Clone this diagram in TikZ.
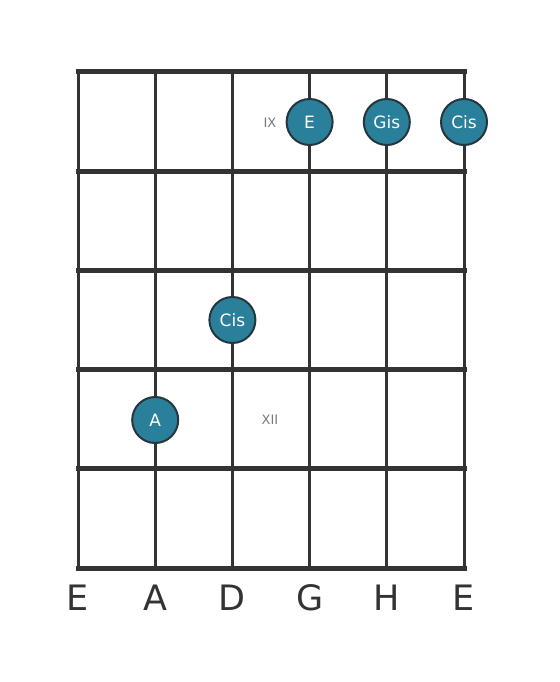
\documentclass[tikz,border=0pt]{standalone}
\usepackage{fontspec}
\setmainfont{DejaVu Sans}
\definecolor{gridgray}{HTML}{333333}
\definecolor{dotfill}{HTML}{2A7F9A}
\definecolor{dotline}{HTML}{26363C}
\definecolor{fretgray}{HTML}{7A7A7A}
\begin{document}
\begin{tikzpicture}[x=1pt,y=-1pt,
  strg/.style={line width=3pt,color=gridgray},
  fret/.style={line width=5pt,color=gridgray,line cap=rect},
  dot/.style={circle,draw=dotline,line width=2pt,fill=dotfill,text=white,minimum size=46pt,inner sep=0pt,font=\fontsize{17}{19}\selectfont},
  fretno/.style={text=fretgray,font=\fontsize{13}{15}\selectfont},
  tuning/.style={text=gridgray,font=\fontsize{35}{40}\selectfont}]
\useasboundingbox (0,0) rectangle (559,682);

\draw[strg] (78,72) -- (78,568);
\draw[strg] (155.2,72) -- (155.2,568);
\draw[strg] (232.4,72) -- (232.4,568);
\draw[strg] (309.6,72) -- (309.6,568);
\draw[strg] (386.8,72) -- (386.8,568);
\draw[strg] (464,72) -- (464,568);
\draw[fret] (78,72) -- (464,72);
\draw[fret] (78,171.2) -- (464,171.2);
\draw[fret] (78,270.4) -- (464,270.4);
\draw[fret] (78,369.6) -- (464,369.6);
\draw[fret] (78,468.8) -- (464,468.8);
\draw[fret] (78,568) -- (464,568);

\node[fretno] (ix) at (270,123) {IX};
\node[fretno] (xii) at (270,420) {XII};
\node[dot] (e9) at (309.6,122) {E};
\node[dot] (gis9) at (386.8,122) {Gis};
\node[dot] (cis9) at (464,122) {Cis};
\node[dot] (cis11) at (232.4,320) {Cis};
\node[dot] (a12) at (155.2,420) {A};

\node[tuning] (s6) at (78,598) {E};
\node[tuning] (s5) at (155.2,598) {A};
\node[tuning] (s4) at (232.4,598) {D};
\node[tuning] (s3) at (309.6,598) {G};
\node[tuning] (s2) at (386.8,598) {H};
\node[tuning] (s1) at (464,598) {E};
\end{tikzpicture}
\end{document}
